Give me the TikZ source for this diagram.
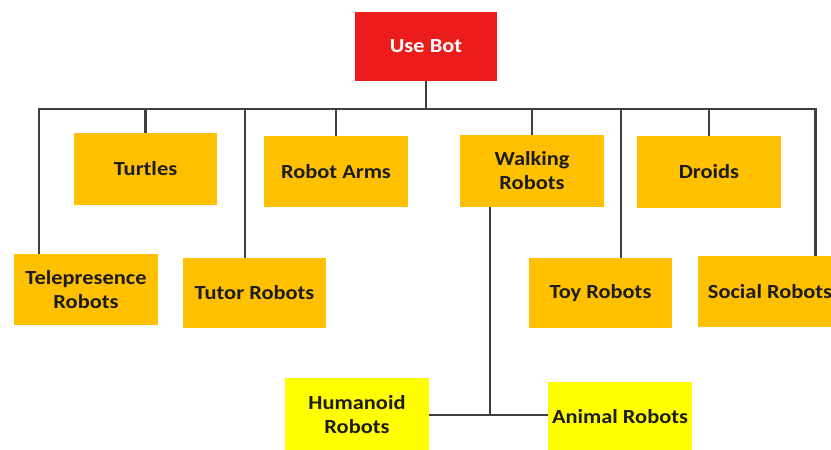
\documentclass[tikz,border=0pt]{standalone}
\usepackage{fontspec}
\setmainfont[FakeStretch=1.12]{Carlito}
\definecolor{gold}{HTML}{FFC000}
\definecolor{lemon}{HTML}{FFFF00}
\definecolor{topred}{HTML}{EC1C1C}
\definecolor{wire}{HTML}{404040}
\definecolor{ink}{HTML}{1C1C1C}
\tikzset{
  box/.style={fill=gold, draw=none, minimum width=144pt, minimum height=71pt, inner sep=0pt,
    align=center, font=\fontsize{20}{24}\selectfont\bfseries, text=ink},
  ybox/.style={box, fill=lemon},
  rootbox/.style={box, fill=topred, text=white, minimum width=142pt, minimum height=69pt},
  conn/.style={draw=wire, line width=2.4pt}
}
\begin{document}
\begin{tikzpicture}[x=1pt,y=-1pt]
\useasboundingbox (0,0) rectangle (831,450);
\node[rootbox] (ub) at (426,46.5) {Use Bot};
\node[box, minimum width=143pt, minimum height=72pt] (turtles) at (145.5,169) {Turtles};
\node[box] (arms) at (336,171.5) {Robot Arms};
\node[box, minimum height=72pt] (walk) at (532,171) {Walking\\Robots};
\node[box, minimum height=72pt] (droids) at (709,172) {Droids};
\node[box] (tele) at (86,289.5) {Telepresence\\Robots};
\node[box, minimum width=143pt, minimum height=70pt] (tutor) at (254.5,293) {Tutor Robots};
\node[box, minimum width=143pt, minimum height=70pt] (toy) at (600.5,293) {Toy Robots};
\node[box] (social) at (770,291.5) {Social Robots};
\node[ybox, minimum height=74pt] (hum) at (357,415) {Humanoid\\Robots};
\node[ybox, minimum height=70pt] (animal) at (620,417) {Animal Robots};
\coordinate (bus) at ([yshift=-28pt]ub.south);
% root to bus
\draw[conn] (ub.south) -- (bus);
\draw[conn] ([xshift=25pt]tele.north west) |- (bus) -| ([xshift=117.5pt]social.north west);
% stubs
\draw[conn] (turtles.north) -- (turtles.north |- bus);
\draw[conn] (arms.north) -- (arms.north |- bus);
\draw[conn] (walk.north) -- (walk.north |- bus);
\draw[conn] (droids.north) -- (droids.north |- bus);
\draw[conn] ([xshift=62pt]tutor.north west) -- ([xshift=62pt]tutor.north west |- bus);
\draw[conn] ([xshift=92pt]toy.north west) -- ([xshift=92pt]toy.north west |- bus);
% walking robots subtree
\draw[conn] (hum.east) -- (hum.east -| animal.west);
\draw[conn] ([xshift=30pt]walk.south west) -- ([xshift=30pt]walk.south west |- hum.east);
\end{tikzpicture}
\end{document}
